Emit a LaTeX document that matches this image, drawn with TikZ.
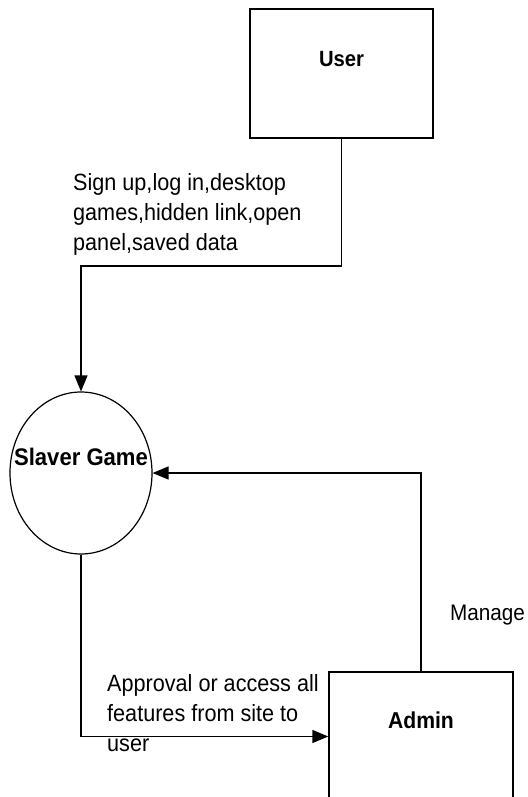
\documentclass[tikz,border=0pt]{standalone}
\usepackage{fontspec}
\setmainfont{Liberation Sans}
\newfontfamily\labfont[FakeStretch=0.92]{Liberation Sans}
\usetikzlibrary{arrows.meta,shapes.geometric}
\tikzset{
  boxshape/.style={draw, line width=1.4pt, minimum width=183pt, minimum height=129pt, inner sep=0pt},
  procshape/.style={draw, ellipse, line width=1.2pt, minimum width=142pt, minimum height=162pt, inner sep=0pt},
  boldtext/.style={font=\labfont\fontsize{23}{26}\selectfont\bfseries, anchor=center, inner sep=0pt},
  flowtext/.style={font=\labfont\fontsize{23.5}{30}\selectfont, align=left, inner sep=0pt},
  flow/.style={line width=1.4pt, -{Triangle[length=16pt,width=13pt]}},
}
\begin{document}
\begin{tikzpicture}[x=1pt,y=-1pt]
\useasboundingbox (0,0) rectangle (527,797);
\clip (0,0) rectangle (527,797);
\node[boxshape, label={[boldtext, font=\labfont\fontsize{22}{26}\selectfont\bfseries, yshift=-51pt]north:User}] (user) at (341.5,73.5) {};
\node[procshape, label={[boldtext, font=\labfont\fontsize{24}{26}\selectfont\bfseries, yshift=16pt]center:Slaver Game}] (game) at (81,473) {};
\node[boxshape, minimum width=184pt, label={[boldtext, yshift=-49pt]north:Admin}] (admin) at (421,736.5) {};
\coordinate (ubend) at (341.5,266);
\draw[flow] (user.south) -- (ubend) -| (game.north);
\draw[flow] (admin.north) |- (game.east);
\draw[flow] (game.south) |- (admin.west);
\node[flowtext, anchor=base west] (l1) at (73,250) {Sign up,log in,desktop\\games,hidden link,open\\panel,saved data};
\node[flowtext, anchor=base west] (l2) at (107,751) {Approval or access all\\features from site to\\user};
\node[flowtext, font=\labfont\fontsize{22.5}{30}\selectfont, anchor=base west] (l3) at (450,620) {Manage};
\end{tikzpicture}
\end{document}
